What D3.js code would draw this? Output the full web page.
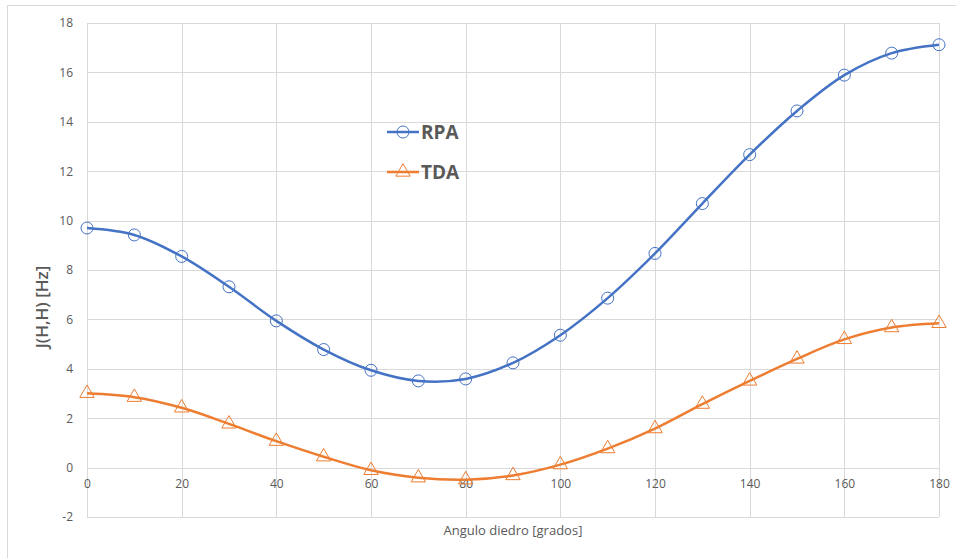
<!DOCTYPE html>
<html>
<head>
<meta charset="utf-8">
<script src="https://cdn.jsdelivr.net/npm/d3@7"></script>
<style>
  body { margin: 0; background: #fff; }
  text { font-family: "Open Sans", "DejaVu Sans", sans-serif; }
</style>
</head>
<body>
<div id="chart"></div>
<script>
// Define SVG area dimensions
var svgWidth = 956;
var svgHeight = 558;

// Chart margins (plot area edges)
var margin = { top: 23, right: 17, bottom: 41, left: 87 };
var chartWidth = svgWidth - margin.left - margin.right;
var chartHeight = svgHeight - margin.top - margin.bottom;

// Data
var angles = [0, 10, 20, 30, 40, 50, 60, 70, 80, 90, 100, 110, 120, 130, 140, 150, 160, 170, 180];
var rpaValues = [9.70, 9.42, 8.55, 7.32, 5.94, 4.78, 3.94, 3.51, 3.59, 4.24, 5.36, 6.86, 8.67, 10.69, 12.67, 14.44, 15.89, 16.78, 17.12];
var tdaValues = [3.01, 2.85, 2.42, 1.77, 1.07, 0.44, -0.11, -0.41, -0.49, -0.32, 0.12, 0.77, 1.58, 2.57, 3.51, 4.40, 5.19, 5.67, 5.84];
var xTicks = [0, 20, 40, 60, 80, 100, 120, 140, 160, 180];
var yTicks = [-2, 0, 2, 4, 6, 8, 10, 12, 14, 16, 18];
var seriesNames = ['RPA', 'TDA'];

var colors = { RPA: '#4472c4', TDA: '#ed7d31' };

var svg = d3.select('#chart')
  .append('svg')
  .attr('width', svgWidth)
  .attr('height', svgHeight);

// outer chart border
svg.append('rect')
  .attr('x', 7.5)
  .attr('y', 5.5)
  .attr('width', 970)
  .attr('height', 570)
  .attr('fill', 'none')
  .attr('stroke', '#d9d9d9');

var chartGroup = svg.append('g')
  .attr('transform', `translate(${margin.left}, ${margin.top})`);

var xScale = d3.scaleLinear().domain([0, 180]).range([0, chartWidth]);
var yScale = d3.scaleLinear().domain([-2, 18]).range([chartHeight, 0]);

// gridlines
chartGroup.append('g')
  .selectAll('line')
  .data(xTicks)
  .enter()
  .append('line')
  .attr('x1', d => Math.round(xScale(d)) + 0.5)
  .attr('x2', d => Math.round(xScale(d)) + 0.5)
  .attr('y1', 0)
  .attr('y2', chartHeight)
  .attr('stroke', '#d9d9d9');

chartGroup.append('g')
  .selectAll('line')
  .data(yTicks)
  .enter()
  .append('line')
  .attr('x1', 0)
  .attr('x2', chartWidth)
  .attr('y1', d => Math.round(yScale(d)) + 0.5)
  .attr('y2', d => Math.round(yScale(d)) + 0.5)
  .attr('stroke', '#d9d9d9');

// y-axis tick labels (plain hyphen for negatives, like the original)
var leftAxis = d3.axisLeft(yScale)
  .tickValues(yTicks)
  .tickFormat(d => String(d))
  .tickSize(0)
  .tickPadding(14);
var yAxis = chartGroup.append('g').call(leftAxis);
yAxis.select('.domain').remove();
yAxis.selectAll('text')
  .attr('fill', '#595959')
  .style('font-size', '12px');

// x-axis tick labels sit under the zero line
var bottomAxis = d3.axisBottom(xScale)
  .tickValues(xTicks)
  .tickFormat(d => String(d))
  .tickSize(0)
  .tickPadding(12);
var xAxis = chartGroup.append('g')
  .attr('transform', `translate(0, ${yScale(0)})`)
  .call(bottomAxis);
xAxis.select('.domain').remove();
xAxis.selectAll('text')
  .attr('fill', '#595959')
  .style('font-size', '12px');

// axis titles
chartGroup.append('text')
  .attr('x', chartWidth / 2)
  .attr('y', chartHeight + 18)
  .attr('text-anchor', 'middle')
  .attr('fill', '#595959')
  .style('font-size', '13px')
  .text('Angulo diedro [grados]');

chartGroup.append('text')
  .attr('transform', 'rotate(-90)')
  .attr('x', -(yScale(6.5)))
  .attr('y', -39)
  .attr('text-anchor', 'middle')
  .attr('fill', '#595959')
  .style('font-size', '17px')
  .style('font-weight', '600')
  .text('J(H,H) [Hz]');

// lines
var line = d3.line()
  .x(d => xScale(d[0]))
  .y(d => yScale(d[1]))
  .curve(d3.curveCatmullRom.alpha(0.5));

var series = [
  { name: 'RPA', values: d3.zip(angles, rpaValues) },
  { name: 'TDA', values: d3.zip(angles, tdaValues) }
];

series.forEach(s => {
  chartGroup.append('path')
    .datum(s.values)
    .attr('d', line)
    .attr('fill', 'none')
    .attr('stroke', colors[s.name])
    .attr('stroke-width', 2.5);
});

var triangle = d3.symbol().type(d3.symbolTriangle).size(90);

function drawMarker(g, name) {
  if (name === 'RPA') {
    g.append('circle')
      .attr('r', 6)
      .attr('fill', 'none')
      .attr('stroke', colors.RPA)
      .attr('stroke-width', 1);
  } else {
    g.append('path')
      .attr('d', triangle)
      .attr('fill', 'none')
      .attr('stroke', colors.TDA)
      .attr('stroke-width', 1);
  }
}

series.forEach(s => {
  chartGroup.append('g')
    .selectAll('g')
    .data(s.values)
    .enter()
    .append('g')
    .attr('transform', d => `translate(${xScale(d[0])},${yScale(d[1])})`)
    .each(function() { drawMarker(d3.select(this), s.name); });
});

// legend
var legend = svg.append('g').attr('transform', 'translate(387, 132)');
seriesNames.forEach((name, i) => {
  var item = legend.append('g').attr('transform', `translate(0, ${i * 40})`);
  item.append('line')
    .attr('x1', 0).attr('x2', 32)
    .attr('y1', 0).attr('y2', 0)
    .attr('stroke', colors[name])
    .attr('stroke-width', 2.5);
  var m = item.append('g').attr('transform', 'translate(16,0)');
  drawMarker(m, name);
  item.append('text')
    .attr('x', 34)
    .attr('y', 0)
    .attr('dy', '0.35em')
    .attr('fill', '#595959')
    .style('font-size', '19px')
    .style('font-weight', '700')
    .text(name);
});
</script>
</body>
</html>
